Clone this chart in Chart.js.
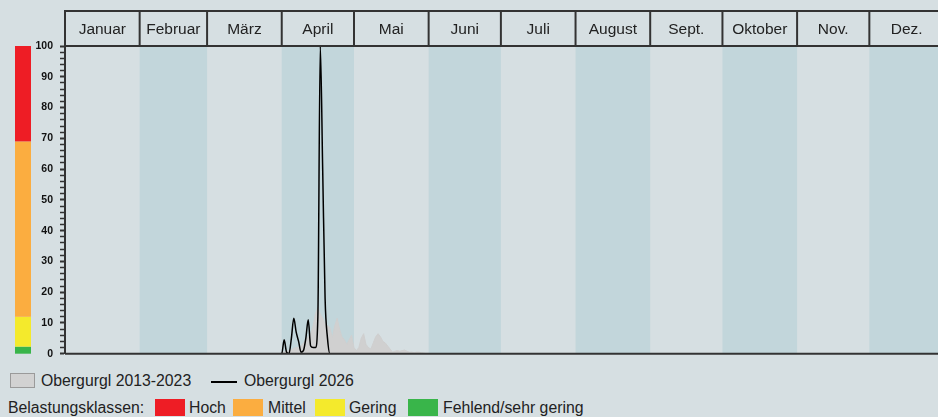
<html>
<head>
    <meta charset="utf-8">
    <title>Obergurgl Belastung</title>
    <script src="https://cdn.jsdelivr.net/npm/chart.js@4.4.0/dist/chart.umd.min.js"></script>
    <style>
        body { margin: 0; background: #d6dfe2; overflow: hidden; width: 938px; height: 417px;
               font-family: "Liberation Sans", Arial, sans-serif; color: #222; }
        #wrap { position: absolute; left: 0; top: 0; width: 946px; height: 367px; }
        .lg { position: absolute; font-size: 15.8px; line-height: 18px; white-space: nowrap; }
        .sw { position: absolute; }
    </style>
</head>
<body>
    <div id="wrap"><canvas id="chart"></canvas></div>

    <!-- legend -->
    <div class="sw" style="left:10px;top:373px;width:23px;height:13px;background:#d2d2d2;border:1px solid #9a9a9a;"></div>
    <div class="lg" style="left:41px;top:372px;">Obergurgl 2013-2023</div>
    <div class="sw" style="left:211px;top:381px;width:26px;height:2px;background:#000;"></div>
    <div class="lg" style="left:244px;top:372px;">Obergurgl 2026</div>

    <div class="lg" style="left:8px;top:399px;">Belastungsklassen:</div>
    <div class="sw" style="left:155px;top:399px;width:30px;height:17px;background:#ee1d25;"></div>
    <div class="lg" style="left:189px;top:399px;">Hoch</div>
    <div class="sw" style="left:233px;top:399px;width:30px;height:17px;background:#fbad40;"></div>
    <div class="lg" style="left:268px;top:399px;">Mittel</div>
    <div class="sw" style="left:315px;top:399px;width:30px;height:17px;background:#f4ea2c;"></div>
    <div class="lg" style="left:349px;top:399px;">Gering</div>
    <div class="sw" style="left:408px;top:399px;width:30px;height:17px;background:#39b54a;"></div>
    <div class="lg" style="left:443px;top:399px;">Fehlend/sehr gering</div>

    <script>
        // month header
        const months = ['Januar', 'Februar', 'März', 'April', 'Mai', 'Juni', 'Juli', 'August', 'Sept.', 'Oktober', 'Nov.', 'Dez.'];
        const monthStart = [0, 31, 59, 90, 120, 151, 181, 212, 243, 273, 304, 334, 365];

        // load classes (value ranges on the y scale)
        const classFrom = [0, 2.3, 12, 69];
        const classTo = [2.3, 12, 69, 100];
        const classColors = ['#39b54a', '#f4ea2c', '#fbad40', '#ee1d25'];

        // Obergurgl 2013-2023 (day of year, value)
        const avgDays = [0, 89, 90, 91, 92, 93, 94, 95, 96, 97, 98, 99, 100, 101, 102, 103, 104, 105, 106, 107, 108, 109,
            110, 111, 112, 113, 114, 115, 116, 117, 118, 119, 120, 121, 122, 123, 124, 125, 126, 127, 128, 129,
            130, 131, 132, 133, 134, 135, 136, 137, 138, 139, 140, 141, 142, 143, 144, 145, 146, 147, 148, 149, 150, 365];
        const avgValues = [0, 0, 0.4, 0.6, 0.8, 1, 1.3, 1.8, 2, 2, 2.5, 3.5, 4.5, 5.5, 6.5, 9, 13, 15, 13, 11.5, 10, 9,
            8.5, 5, 9, 11.5, 8, 5.5, 4.5, 3, 4.5, 6, 2, 1, 2, 5, 6.5, 3, 2, 1.5, 3.5, 5.5,
            6.5, 5.5, 4, 3.5, 2.5, 1.5, 0.5, 0.8, 1, 0.8, 1, 1.2, 0.8, 0.5, 0.5, 0.3, 0.5, 0.5, 0.3, 0.2, 0, 0];

        // Obergurgl 2026 (day of year, value)
        const curDays = [0, 90, 91, 92, 93, 94, 95, 96, 97, 98, 99, 100, 101, 102, 103, 104, 105, 106, 107, 108, 109, 110, 365];
        const curValues = [0, 0, 4.5, 0.5, 0, 5, 11.5, 7, 4, 0.5, 1, 5, 11, 2.5, 2, 2, 12, 100, 60, 18, 5, 0, 0];

        const yTicksMin = 0, yTicksMax = 100, yStep = 2, yLabelStep = 10;

        const pageBg = '#d6dfe2';
        const darkBand = '#c2d6db';

        const toXY = (xs, ys) => xs.map((x, i) => ({ x: x, y: ys[i] }));

        const backdrop = {
            id: 'backdrop',
            beforeDraw(chart) {
                const { ctx, chartArea: a, scales: { x, y } } = chart;
                ctx.save();
                ctx.fillStyle = pageBg;
                ctx.fillRect(0, 0, chart.width, chart.height);
                // month bands
                for (let i = 0; i < months.length; i++) {
                    if (i % 2 === 1) {
                        const x0 = x.getPixelForValue(monthStart[i]);
                        const x1 = x.getPixelForValue(monthStart[i + 1]);
                        ctx.fillStyle = darkBand;
                        ctx.fillRect(x0, a.top, x1 - x0, a.bottom - a.top);
                    }
                }
                // class bar on the left
                for (let i = 0; i < classFrom.length; i++) {
                    const y0 = y.getPixelForValue(classTo[i]);
                    const y1 = y.getPixelForValue(classFrom[i]);
                    ctx.fillStyle = classColors[i];
                    ctx.fillRect(15, y0, 16, y1 - y0);
                }
                ctx.restore();
            },
            afterDraw(chart) {
                const { ctx, chartArea: a, scales: { x, y } } = chart;
                ctx.save();
                // baseline
                ctx.strokeStyle = '#333';
                ctx.lineWidth = 2;
                ctx.beginPath();
                ctx.moveTo(a.left, y.getPixelForValue(0));
                ctx.lineTo(a.right, y.getPixelForValue(0));
                ctx.stroke();
                // month header boxes
                const top = 11;
                ctx.strokeStyle = '#333';
                ctx.lineWidth = 2;
                ctx.strokeRect(a.left, top, a.right - a.left, a.top - top);
                ctx.font = '15.5px "Liberation Sans", Arial, sans-serif';
                ctx.fillStyle = '#222';
                ctx.textAlign = 'center';
                ctx.textBaseline = 'middle';
                for (let i = 0; i < months.length; i++) {
                    const x0 = x.getPixelForValue(monthStart[i]);
                    const x1 = x.getPixelForValue(monthStart[i + 1]);
                    if (i > 0) {
                        ctx.beginPath();
                        ctx.moveTo(x0, top);
                        ctx.lineTo(x0, a.top);
                        ctx.stroke();
                    }
                    ctx.fillText(months[i], (x0 + x1) / 2, (top + a.top) / 2 + 1);
                }
                ctx.restore();
            }
        };

        new Chart(document.getElementById('chart'), {
            type: 'line',
            data: {
                datasets: [{
                    label: 'Obergurgl 2026',
                    data: toXY(curDays, curValues),
                    borderColor: '#000',
                    borderWidth: 1.5,
                    pointRadius: 0,
                    fill: false,
                    cubicInterpolationMode: 'monotone',
                    order: 0
                }, {
                    label: 'Obergurgl 2013-2023',
                    data: toXY(avgDays, avgValues),
                    borderColor: '#cfcfcf',
                    backgroundColor: '#d0d0d0',
                    borderWidth: 1,
                    pointRadius: 0,
                    fill: 'origin',
                    tension: 0,
                    order: 1
                }]
            },
            options: {
                responsive: true,
                maintainAspectRatio: false,
                animation: false,
                layout: { padding: { left: 0, right: 2, top: 46, bottom: 0 } },
                plugins: { legend: { display: false }, tooltip: { enabled: false } },
                scales: {
                    x: {
                        type: 'linear',
                        min: 0,
                        max: 365,
                        display: false
                    },
                    y: {
                        min: yTicksMin,
                        max: yTicksMax,
                        afterFit: (s) => { s.width = 65; },
                        border: { display: true, color: '#333', width: 2 },
                        grid: {
                            drawOnChartArea: false,
                            drawTicks: true,
                            tickLength: 5,
                            tickColor: '#333',
                            tickWidth: (c) => (c.tick && c.tick.value % yLabelStep === 0 ? 2 : 1.5)
                        },
                        ticks: {
                            stepSize: yStep,
                            autoSkip: false,
                            padding: 7,
                            color: '#111',
                            font: { family: '"Liberation Sans", Arial, sans-serif', size: 10.5, weight: 'bold' },
                            callback: (v) => (v % yLabelStep === 0 ? v : '')
                        }
                    }
                }
            },
            plugins: [backdrop]
        });
    </script>
</body>
</html>
